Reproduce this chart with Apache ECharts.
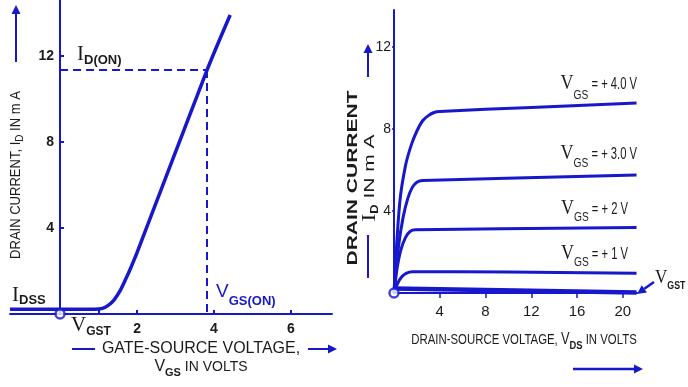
<!DOCTYPE html>
<html><head><meta charset="utf-8">
<script src="https://cdn.jsdelivr.net/npm/echarts@6/dist/echarts.min.js"></script>
<style>html,body{margin:0;padding:0;background:#fff}#c{width:688px;height:387px}</style>
</head><body><div id="c"></div>
<script>
// ---------- Left chart: transfer characteristic ----------
const transferVgs = [-1.3, 0.9, 1.1, 1.25, 1.4, 1.55, 1.7, 1.85, 2.0, 3.81, 4.42];
const transferId  = [0.22, 0.22, 0.26, 0.4, 0.65, 1.05, 1.6, 2.2, 2.85, 11.3, 13.9];
const vgsOn = 3.81;
const idOn = 11.35;
const leftXTicks = [1, 2, 4, 6];
const leftXLabels = [2, 4, 6];
const leftYLabels = [4, 8, 12];

// ---------- Right chart: drain characteristics ----------
const vds4 = [0, 0.5, 1.0, 1.5, 2.0, 2.5, 3.0, 3.5, 4.0, 12, 21.2];
const id4  = [0, 4.4, 6.2, 7.2, 7.9, 8.4, 8.65, 8.8, 8.85, 9.05, 9.27];
const vds3 = [0, 0.4, 0.8, 1.2, 1.6, 2.0, 2.5, 21.2];
const id3  = [0, 2.3, 3.7, 4.6, 5.15, 5.4, 5.48, 5.76];
const vds2 = [0, 0.3, 0.6, 1.0, 1.4, 1.9, 21.2];
const id2  = [0, 1.3, 2.1, 2.7, 3.0, 3.08, 3.2];
const vds1 = [0, 0.3, 0.7, 1.1, 1.6, 10, 21.2];
const id1  = [0, 0.45, 0.8, 0.97, 1.04, 1.02, 0.96];
const vdsT = [0, 21.2];
const idT  = [0.22, 0.02];
const curveLabels = ['= + 4.0 V', '= + 3.0 V', '= + 2 V', '= + 1 V'];
const rightXLabels = [4, 8, 12, 16, 20];
const rightYLabels = [4, 8, 12];

const BLUE = '#1717cc';
const INK = '#1b1b1b';
const SERIF = "'Liberation Serif','Times New Roman',serif";
const SANS = "'Liberation Sans',Arial,sans-serif";

const zip = (a, b) => a.map((v, i) => [v, b[i]]);
const mctx = document.createElement('canvas').getContext('2d');
function tw(t, font) { mctx.font = font; return mctx.measureText(t).width; }

function seq(x, y, parts, align) {
  let total = parts.reduce((s, p) => s + tw(p.t, p.f) * (p.sx || 1), 0);
  let cx = align === 'right' ? x - total : align === 'center' ? x - total / 2 : x;
  const out = [];
  parts.forEach(p => {
    const sx = p.sx || 1;
    out.push({ type: 'text', x: cx, y: y + (p.dy || 0), scaleX: sx, z: 50,
      style: { text: p.t, font: p.f, fill: p.c || INK, textAlign: 'left', textVerticalAlign: 'middle' } });
    cx += tw(p.t, p.f) * sx;
  });
  return out;
}
function arrow(x1, y1, x2, y2, col, w) {
  const ang = Math.atan2(y2 - y1, x2 - x1), L = 9, W = 4.5;
  const bx = x2 - L * Math.cos(ang), by = y2 - L * Math.sin(ang);
  const nx = -Math.sin(ang), ny = Math.cos(ang);
  return [
    { type: 'line', z: 50, shape: { x1, y1, x2: bx, y2: by }, style: { stroke: col, lineWidth: w || 2 } },
    { type: 'polygon', z: 50, shape: { points: [[x2, y2], [bx + nx * W, by + ny * W], [bx - nx * W, by - ny * W]] }, style: { fill: col } }
  ];
}
function seg(x1, y1, x2, y2, col, w) {
  return { type: 'line', z: 50, shape: { x1, y1, x2, y2 }, style: { stroke: col, lineWidth: w || 2 } };
}

const chart = echarts.init(document.getElementById('c'), null, { renderer: 'canvas' });

const lineBase = { type: 'line', showSymbol: false, smooth: 0.35, clip: false,
  lineStyle: { color: BLUE, width: 3 }, itemStyle: { color: BLUE } };

const L_MIN = -1.3, L_MAX = 7.065, L_W = 322;
const leftYOffset = -L_W * (0 - L_MIN) / (L_MAX - L_MIN); // place y axis at V_GS = 0

const option = {
  animation: false,
  backgroundColor: '#fff',
  grid: [
    { left: 10, top: 0, width: L_W, height: 314, containLabel: false, outerBoundsMode: 'none' },
    { left: 394, top: 10, width: 243, height: 283, containLabel: false, outerBoundsMode: 'none' }
  ],
  xAxis: [
    { gridIndex: 0, type: 'value', min: L_MIN, max: L_MAX,
      axisLine: { onZero: true, lineStyle: { color: BLUE, width: 2 } },
      axisTick: { show: true, inside: true, length: 4, customValues: leftXTicks, lineStyle: { color: BLUE, width: 2 } },
      axisLabel: { customValues: leftXLabels, margin: 8, color: INK, fontFamily: SANS, fontWeight: 'bold', fontSize: 14 },
      splitLine: { show: false } },
    { gridIndex: 1, type: 'value', min: 0, max: 21.24,
      axisLine: { onZero: true, lineStyle: { color: BLUE, width: 2 } },
      axisTick: { show: true, length: 5, customValues: rightXLabels, lineStyle: { color: BLUE, width: 1.5 } },
      axisLabel: { customValues: rightXLabels, margin: 11, color: INK, fontFamily: SANS, fontSize: 15 },
      splitLine: { show: false } }
  ],
  yAxis: [
    { gridIndex: 0, type: 'value', min: 0, max: 14.6, offset: leftYOffset,
      axisLine: { show: true, onZero: false, lineStyle: { color: BLUE, width: 2 } },
      axisTick: { show: true, inside: true, length: 4, customValues: leftYLabels, lineStyle: { color: BLUE, width: 2 } },
      axisLabel: { customValues: leftYLabels, margin: 6, color: INK, fontFamily: SANS, fontWeight: 'bold', fontSize: 14 },
      splitLine: { show: false } },
    { gridIndex: 1, type: 'value', min: 0, max: 13.8,
      axisLine: { show: true, onZero: true, lineStyle: { color: BLUE, width: 2 } },
      axisTick: { show: true, length: 2, customValues: rightYLabels, lineStyle: { color: BLUE, width: 1.5 } },
      axisLabel: { customValues: rightYLabels, margin: 3, color: INK, fontFamily: SANS, fontSize: 14 },
      splitLine: { show: false } }
  ],
  series: [
    Object.assign({}, lineBase, { name: 'transfer', xAxisIndex: 0, yAxisIndex: 0, smooth: 0.3,
      data: zip(transferVgs, transferId), lineStyle: { color: BLUE, width: 3.5 },
      markLine: { silent: true, symbol: ['none', 'none'], label: { show: false },
        lineStyle: { color: BLUE, width: 2, type: [8, 5] },
        data: [
          [{ coord: [0, idOn] }, { coord: [vgsOn, idOn] }],
          [{ coord: [vgsOn, idOn] }, { coord: [vgsOn, 0] }]
        ] } }),
    { type: 'scatter', xAxisIndex: 0, yAxisIndex: 0, data: [[0, 0]], symbolSize: 9, z: 10, clip: false,
      itemStyle: { color: '#fff', borderColor: BLUE, borderWidth: 2.5 } },
    Object.assign({}, lineBase, { name: 'VGS4', xAxisIndex: 1, yAxisIndex: 1, data: zip(vds4, id4) }),
    Object.assign({}, lineBase, { name: 'VGS3', xAxisIndex: 1, yAxisIndex: 1, data: zip(vds3, id3) }),
    Object.assign({}, lineBase, { name: 'VGS2', xAxisIndex: 1, yAxisIndex: 1, data: zip(vds2, id2) }),
    Object.assign({}, lineBase, { name: 'VGS1', xAxisIndex: 1, yAxisIndex: 1, data: zip(vds1, id1) }),
    Object.assign({}, lineBase, { name: 'VGST', xAxisIndex: 1, yAxisIndex: 1, smooth: false, data: zip(vdsT, idT),
      lineStyle: { color: BLUE, width: 4.5 } }),
    { type: 'scatter', xAxisIndex: 1, yAxisIndex: 1, data: [[0, 0]], symbolSize: 9, z: 10, clip: false,
      itemStyle: { color: '#fff', borderColor: BLUE, borderWidth: 2.5 } }
  ]
};
chart.setOption(option);

// ---------- annotations ----------
const g = [];
const sub = (s) => "bold " + s + "px " + SANS;
g.push(...seq(77, 54, [{ t: 'I', f: '21px ' + SERIF }, { t: 'D(ON)', f: sub(13), dy: 6 }]));
g.push(...seq(12, 295, [{ t: 'I', f: '21px ' + SERIF }, { t: 'DSS', f: sub(13), dy: 5 }]));
g.push(...seq(71, 325, [{ t: 'V', f: '21px ' + SERIF }, { t: 'GST', f: sub(12), dy: 7 }]));
g.push(...seq(216, 292, [{ t: 'V', f: '19px ' + SANS, c: BLUE }, { t: 'GS(ON)', f: sub(13), dy: 9, c: BLUE }]));
g.push(...seq(201, 349, [{ t: 'GATE-SOURCE VOLTAGE,', f: '16px ' + SANS }], 'center'));
g.push(seg(72, 349, 95, 349, BLUE, 2));
g.push(...arrow(308, 349, 337, 349, BLUE, 2));
g.push(...seq(201, 367, [{ t: 'V', f: '16px ' + SANS }, { t: 'GS', f: sub(11), dy: 6 }, { t: ' IN VOLTS', f: '14px ' + SANS }], 'center'));
g.push({ type: 'group', x: 16, y: 175, rotation: Math.PI / 2,
  children: seq(0, 0, [{ t: 'DRAIN CURRENT, I', f: '14px ' + SANS, sx: 0.93 }, { t: 'D', f: '10px ' + SANS, dy: 4 }, { t: ' IN m A', f: '14px ' + SANS, sx: 0.93 }], 'center') });
g.push(...arrow(16, 62, 16, 5, BLUE, 2));

g.push({ type: 'group', x: 353, y: 178, rotation: Math.PI / 2,
  children: seq(0, 0, [{ t: 'DRAIN CURRENT', f: 'bold 14px ' + SANS, sx: 1.5 }], 'center') });
g.push({ type: 'group', x: 370, y: 178, rotation: Math.PI / 2,
  children: seq(0, 0, [{ t: 'I', f: '18px ' + SERIF, sx: 1.3 }, { t: 'D', f: 'bold 10px ' + SANS, dy: 5, sx: 1.3 }, { t: ' IN m A', f: '14px ' + SANS, sx: 1.5 }], 'center') });
g.push(...arrow(368, 77, 368, 44, BLUE, 2));
g.push(seg(368, 235, 368, 278, BLUE, 2));
g.push(...seq(524, 340, [{ t: 'DRAIN-SOURCE VOLTAGE, ', f: '15px ' + SANS, sx: 0.76 }, { t: 'V', f: '16px ' + SANS, sx: 0.8 },
  { t: 'DS', f: 'bold 11px ' + SANS, dy: 6, sx: 0.85 }, { t: ' IN VOLTS', f: '15px ' + SANS, sx: 0.76 }], 'center'));
g.push(...arrow(573, 369, 643, 369, BLUE, 2.5));
const labelPos = [[637, 84, 12], [637, 154, 10], [628, 209, 9], [628, 254, 9]];
curveLabels.forEach((txt, i) => {
  const [rx, cy, d] = labelPos[i];
  g.push(...seq(rx, cy, [{ t: 'V', f: '20px ' + SERIF, sx: 0.9 }, { t: 'GS', f: '12px ' + SANS, dy: d, sx: 0.85 },
    { t: ' ' + txt, f: '17px ' + SANS, sx: 0.66 }], 'right'));
});
g.push(...seq(655, 278, [{ t: 'V', f: '19px ' + SERIF, sx: 0.9 }, { t: 'GST', f: 'bold 11px ' + SANS, dy: 8, sx: 0.8 }]));
g.push(...arrow(654, 282, 637, 294, BLUE, 2.5));

chart.setOption({ graphic: g });
</script>
</body></html>
